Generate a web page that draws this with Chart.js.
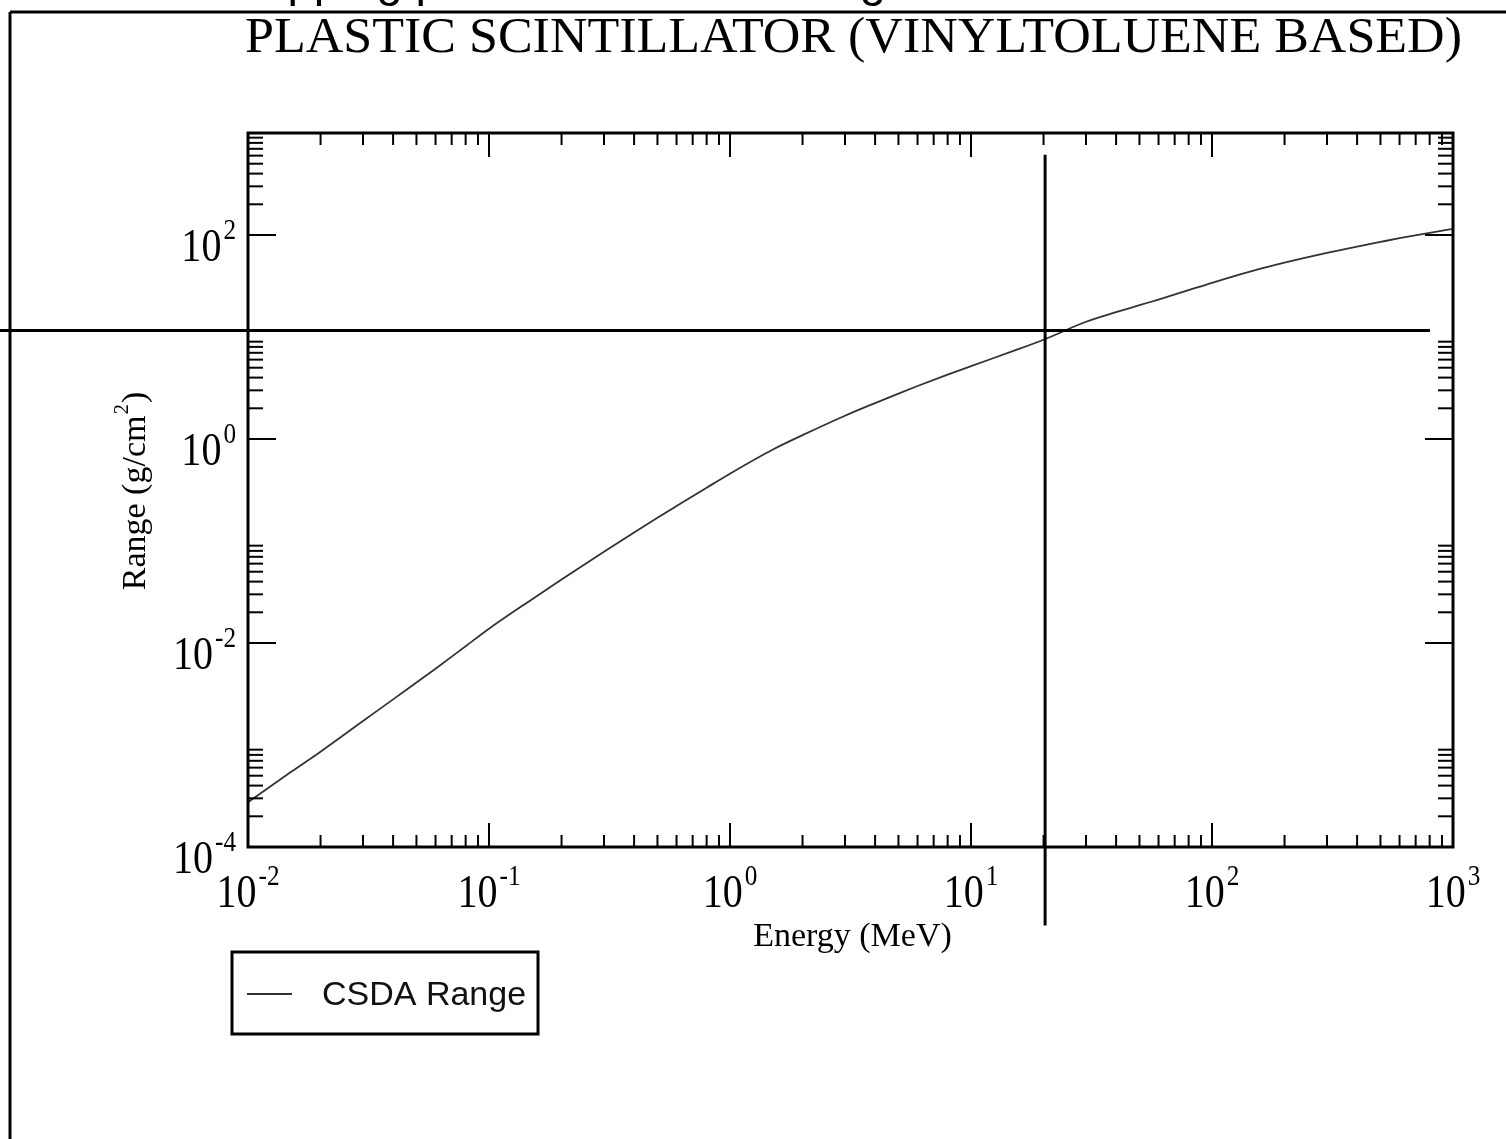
<!DOCTYPE html>
<html>
<head>
<meta charset="utf-8">
<title>CSDA Range</title>
<script src="https://cdn.jsdelivr.net/npm/chart.js@4/dist/chart.umd.min.js"></script>
<style>
  html, body { margin: 0; padding: 0; background: #fff; }
  #wrap { position: relative; width: 1506px; height: 1139px; }
</style>
</head>
<body>
<div id="wrap"><canvas id="rangeChart" width="1506" height="1139"></canvas></div>
<script>
// electron energy (MeV) and CSDA range (g/cm2)
const energies = [0.01, 0.015, 0.02, 0.03, 0.04, 0.05, 0.06, 0.08,
    0.1, 0.15, 0.2, 0.3, 0.4, 0.5, 0.6, 0.8,
    1, 1.5, 2, 3, 4, 5, 6, 8,
    10, 15, 20, 30, 40, 50, 60, 80,
    100, 150, 200, 300, 400, 500, 600, 800, 1000];
const csdaRange = [2.75e-4, 5.4e-4, 8.6e-4, 1.72e-3, 2.8e-3, 4.1e-3, 5.6e-3, 9.3e-3,
    1.38e-2, 2.66e-2, 4.19e-2, 7.86e-2, 0.1213, 0.1688, 0.22, 0.333,
    0.457, 0.784, 1.09, 1.69, 2.25, 2.79, 3.31, 4.28,
    5.18, 7.3, 9.4, 14.1, 17.5, 20.5, 23.3, 28.8,
    34, 45, 53.5, 66.7, 77, 85.5, 93, 105, 115];

// labelled decades on each axis
const xDecades = [-2, -1, 0, 1, 2, 3];
const yDecades = [-4, -2, 0, 2];

// marker lines
const crossEnergy = 20.3;
const crossRange = 11.6;
const crossEnergySpan = [9e-4, 803];
const crossRangeSpan = [1.7e-5, 612];

const titleText = "PLASTIC SCINTILLATOR (VINYLTOLUENE BASED)";
const headerText = "Stopping power and CSDA range";

const SERIF = '"Liberation Serif", "Times New Roman", serif';
const SANS = '"Liberation Sans", Arial, sans-serif';

function drawScaled(ctx, text, x, y, font, sx, align = 'left') {
    ctx.font = font;
    const w = ctx.measureText(text).width * sx;
    let left = x;
    if (align === 'center') left = x - w / 2;
    if (align === 'right') left = x - w;
    ctx.save();
    ctx.translate(left, y);
    ctx.scale(sx, 1);
    ctx.fillText(text, 0, 0);
    ctx.restore();
    return w;
}

// "10" with a raised exponent
function powerLabel(ctx, exp, x, baseY, align) {
    const sx = 0.87;
    const bigFont = `46px ${SERIF}`;
    const supFont = `29px ${SERIF}`;
    ctx.font = bigFont;
    const wb = ctx.measureText('10').width * sx;
    ctx.font = supFont;
    const ws = ctx.measureText(String(exp)).width * sx;
    const total = wb + 2 + ws;
    let left = align === 'right' ? x - total : x - total / 2;
    drawScaled(ctx, '10', left, baseY, bigFont, sx);
    drawScaled(ctx, String(exp), left + wb + 2, baseY - 22, supFont, sx);
}

function line(ctx, x1, y1, x2, y2) {
    ctx.beginPath();
    ctx.moveTo(x1, y1);
    ctx.lineTo(x2, y2);
    ctx.stroke();
}

const axisFrame = {
    id: 'axisFrame',
    afterDatasetsDraw(chart) {
        const { ctx, chartArea: a, scales: { x, y } } = chart;
        ctx.save();
        ctx.strokeStyle = '#000';
        ctx.lineWidth = 2;

        // x ticks: major every decade, minor 2..9, mirrored on top
        xDecades.forEach((d, i) => {
            const px = x.getPixelForValue(10 ** d);
            line(ctx, px, a.bottom, px, a.bottom - 24);
            line(ctx, px, a.top, px, a.top + 24);
            if (i === xDecades.length - 1) return;
            for (let k = 2; k <= 9; k++) {
                const mx = x.getPixelForValue(k * 10 ** d);
                line(ctx, mx, a.bottom, mx, a.bottom - 12);
                line(ctx, mx, a.top, mx, a.top + 12);
            }
        });

        // y ticks: major every second decade, minor only above each major
        yDecades.forEach(d => {
            const py = y.getPixelForValue(10 ** d);
            line(ctx, a.left, py, a.left + 28, py);
            line(ctx, a.right, py, a.right - 28, py);
            for (let k = 2; k <= 9; k++) {
                const my = y.getPixelForValue(k * 10 ** d);
                line(ctx, a.left, my, a.left + 15, my);
                line(ctx, a.right, my, a.right - 15, my);
            }
        });

        ctx.lineWidth = 3;
        ctx.strokeRect(a.left, a.top, a.right - a.left, a.bottom - a.top);
        ctx.restore();
    },
    afterDraw(chart) {
        const { ctx, chartArea: a, scales: { x, y } } = chart;
        ctx.save();
        ctx.fillStyle = '#000';
        ctx.textBaseline = 'alphabetic';

        // outer page frame and clipped header line
        ctx.strokeStyle = '#000';
        ctx.lineWidth = 3;
        line(ctx, 10, 12, chart.width, 12);
        line(ctx, 10, 12, 10, chart.height);
        drawScaled(ctx, headerText, 217, -4, `47px ${SANS}`, 1);

        // title
        ctx.font = `50px ${SERIF}`;
        const tw = ctx.measureText(titleText).width;
        drawScaled(ctx, titleText, 245, 52, `50px ${SERIF}`, 1217 / tw);

        // tick labels
        xDecades.forEach(d => powerLabel(ctx, d, x.getPixelForValue(10 ** d), a.bottom + 60, 'center'));
        yDecades.forEach(d => powerLabel(ctx, d, 236, y.getPixelForValue(10 ** d) + 26, 'right'));

        // axis titles
        drawScaled(ctx, 'Energy (MeV)', (a.left + a.right) / 2 + 2, 946, `34px ${SERIF}`, 1, 'center');

        ctx.save();
        ctx.translate(145, 491);
        ctx.rotate(-Math.PI / 2);
        ctx.font = `34px ${SERIF}`;
        const p1 = 'Range (g/cm', p3 = ')';
        const w1 = ctx.measureText(p1).width;
        const w3 = ctx.measureText(p3).width;
        ctx.font = `21px ${SERIF}`;
        const w2 = ctx.measureText('2').width;
        let sx0 = -(w1 + w2 + w3 + 2) / 2;
        ctx.font = `34px ${SERIF}`;
        ctx.fillText(p1, sx0, 0);
        ctx.font = `21px ${SERIF}`;
        ctx.fillText('2', sx0 + w1 + 1, -17);
        ctx.font = `34px ${SERIF}`;
        ctx.fillText(p3, sx0 + w1 + w2 + 2, 0);
        ctx.restore();

        // marker cross
        ctx.lineWidth = 3;
        const cx = x.getPixelForValue(crossEnergy);
        const cy = y.getPixelForValue(crossRange);
        line(ctx, cx, y.getPixelForValue(crossRangeSpan[1]), cx, y.getPixelForValue(crossRangeSpan[0]));
        line(ctx, x.getPixelForValue(crossEnergySpan[0]), cy, x.getPixelForValue(crossEnergySpan[1]), cy);

        // legend box
        const ds = chart.data.datasets[0];
        ctx.lineWidth = 3;
        ctx.strokeRect(232, 952, 306, 82);
        ctx.strokeStyle = ds.borderColor;
        ctx.lineWidth = 2;
        line(ctx, 247, 994, 292, 994);
        ctx.fillStyle = '#111';
        drawScaled(ctx, ds.label, 322, 1005, `34px ${SANS}`, 1);
        ctx.restore();
    }
};

new Chart(document.getElementById('rangeChart'), {
    type: 'line',
    data: {
        datasets: [{
            label: 'CSDA Range',
            data: energies.map((e, i) => ({ x: e, y: csdaRange[i] })),
            borderColor: '#333333',
            borderWidth: 1.8,
            pointRadius: 0,
            fill: false,
            cubicInterpolationMode: 'monotone'
        }]
    },
    options: {
        responsive: false,
        animation: false,
        devicePixelRatio: 1,
        layout: { padding: { left: 248, right: 53, top: 133, bottom: 292 } },
        plugins: {
            legend: { display: false },
            title: { display: false },
            tooltip: { enabled: false }
        },
        scales: {
            x: { type: 'logarithmic', min: 0.01, max: 1000, display: false },
            y: { type: 'logarithmic', min: 1e-4, max: 1000, display: false }
        }
    },
    plugins: [axisFrame]
});
</script>
</body>
</html>
